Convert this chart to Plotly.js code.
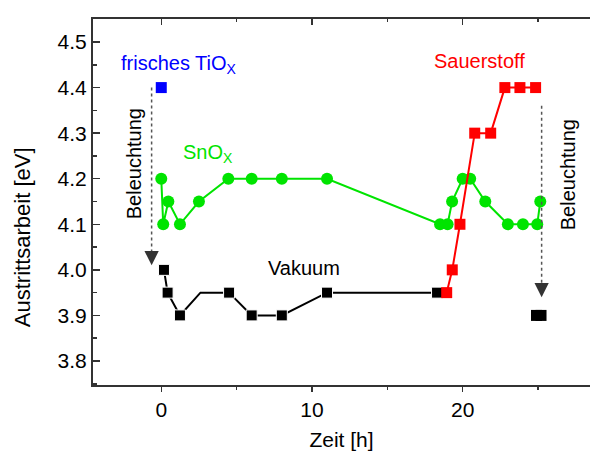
<!DOCTYPE html>
<html>
<head>
<meta charset="utf-8">
<script src="https://cdn.plot.ly/plotly-3.0.1.min.js"></script>
<style>
  html, body { margin: 0; padding: 0; background: #fff; }
  #chart { width: 590px; height: 458px; }
</style>
</head>
<body>
<div id="chart"></div>
<script>
// Work function (Austrittsarbeit) over time for the different sample states
const tiox_t   = [0];
const tiox_phi = [4.4];

const snox_t   = [0, 0.13, 0.47, 1.24, 2.5, 4.45, 6.0, 8.0, 11.0, 18.5, 19.0, 19.3, 20.0, 20.5, 21.5, 23.0, 24.0, 24.95, 25.15];
const snox_phi = [4.2, 4.1, 4.15, 4.1, 4.15, 4.2, 4.2, 4.2, 4.2, 4.1, 4.1, 4.15, 4.2, 4.2, 4.15, 4.1, 4.1, 4.1, 4.15];

// vacuum series; the point at 2.6 h is a line vertex only
const vakuum_t   = [0.18, 0.42, 1.24, 2.6, 4.5, 6.0, 8.0, 11.0, 18.3];
const vakuum_phi = [4.0, 3.95, 3.9, 3.95, 3.95, 3.9, 3.9, 3.95, 3.95];
const vakuum_vertexOnly = 3;

// vacuum after illumination
const vakuumBel_t   = [24.9, 25.2];
const vakuumBel_phi = [3.9, 3.9];

const sauer_t   = [18.94, 19.31, 19.82, 20.8, 21.86, 22.8, 23.8, 24.84];
const sauer_phi = [3.95, 4.0, 4.1, 4.3, 4.3, 4.4, 4.4, 4.4];

// illumination arrows: [time, start value, tip value]
const arrowLeft  = [-0.64, 4.4, 4.01];
const arrowRight = [25.24, 4.36, 3.94];

const xRange = [-4.53, 28.45];
const yRange = [3.7473, 4.5505];

const GREEN = '#00e400';
const FONT = 'Liberation Sans, Arial, sans-serif';
const AXIS_COLOR = '#333';

const traces = [
  {
    x: snox_t, y: snox_phi, mode: 'lines+markers',
    line: { color: GREEN, width: 2 },
    marker: { symbol: 'circle', size: 12, color: GREEN, opacity: 1 }
  },
  {
    x: vakuum_t, y: vakuum_phi, mode: 'lines+markers',
    line: { color: '#000', width: 2 },
    marker: {
      symbol: 'square', color: '#000', opacity: 1,
      size: vakuum_t.map((_, i) => i === vakuum_vertexOnly ? 0 : 11)
    }
  },
  {
    x: vakuumBel_t, y: vakuumBel_phi, mode: 'lines+markers',
    line: { color: '#000', width: 2 },
    marker: { symbol: 'square', size: 11, color: '#000', opacity: 1 }
  },
  {
    x: sauer_t, y: sauer_phi, mode: 'lines+markers',
    line: { color: '#ff0000', width: 2 },
    marker: { symbol: 'square', size: 11, color: '#ff0000', opacity: 1 }
  },
  {
    x: tiox_t, y: tiox_phi, mode: 'markers',
    marker: { symbol: 'square', size: 11, color: '#0000ff', opacity: 1 }
  },
  // carrier for the top tick axis
  { x: [], y: [], xaxis: 'x2', mode: 'markers' }
];

const shapes = [arrowLeft, arrowRight].map(a => ({
  type: 'line', xref: 'x', yref: 'y',
  x0: a[0], x1: a[0], y0: a[1], y1: a[2] + 0.02,
  line: { color: '#555', width: 1.5, dash: 'dot' }
}));

const arrowHeads = [arrowLeft, arrowRight].map(a => ({
  x: a[0], y: a[2], xref: 'x', yref: 'y',
  ax: 0, ay: -12, axref: 'pixel', ayref: 'pixel',
  text: '', showarrow: true, arrowhead: 2, arrowsize: 2.2, arrowwidth: 1.3,
  arrowcolor: '#333', standoff: 0
}));

function label(text, x, y, color, angle) {
  return {
    text: text, x: x, y: y, xref: 'x', yref: 'y', showarrow: false,
    xanchor: 'center', yanchor: 'middle', textangle: angle || 0,
    font: { family: FONT, size: 20, color: color }
  };
}

const annotations = [
  label('frisches TiO<sub>X</sub>', 1.15, 4.45, '#0000ff'),
  label('SnO<sub>X</sub>', 3.1, 4.255, GREEN),
  label('Vakuum', 9.5, 4.004, '#000'),
  label('Sauerstoff', 21.15, 4.458, '#ff0000'),
  label('Beleuchtung', -1.8, 4.232, '#000', -90),
  label('Beleuchtung', 27.0, 4.208, '#000', -90),
  // y-axis title, placed a little below the plot centre
  {
    text: 'Austrittsarbeit [eV]', xref: 'paper', yref: 'paper',
    x: -0.142, y: 0.405, xanchor: 'center', yanchor: 'middle',
    textangle: -90, showarrow: false,
    font: { family: FONT, size: 22, color: '#000' }
  }
].concat(arrowHeads);

const layout = {
  width: 590, height: 458,
  margin: { l: 93, r: 0, t: 19, b: 73 },
  paper_bgcolor: '#fff', plot_bgcolor: '#fff',
  showlegend: false,
  hovermode: false,
  font: { family: FONT, size: 20, color: '#000' },
  xaxis: {
    range: xRange, showgrid: false, zeroline: false,
    showline: true, linecolor: AXIS_COLOR, linewidth: 2, mirror: true,
    tickmode: 'linear', tick0: 0, dtick: 10,
    ticks: 'outside', ticklen: 5, tickwidth: 1.5, tickcolor: AXIS_COLOR,
    minor: { tickmode: 'linear', tick0: 0, dtick: 5, ticks: 'outside', ticklen: 3, tickwidth: 1.5, tickcolor: AXIS_COLOR },
    tickfont: { family: FONT, size: 21, color: '#000' },
    title: { text: 'Zeit [h]', font: { family: FONT, size: 21, color: '#000' }, standoff: 12 }
  },
  xaxis2: {
    range: xRange, overlaying: 'x', side: 'top', anchor: 'y',
    showgrid: false, zeroline: false, showline: false, showticklabels: false,
    tickmode: 'linear', tick0: 0, dtick: 10,
    ticks: 'inside', ticklen: 6, tickwidth: 1.5, tickcolor: AXIS_COLOR,
    minor: { tickmode: 'linear', tick0: 0, dtick: 5, ticks: 'inside', ticklen: 3, tickwidth: 1.5, tickcolor: AXIS_COLOR }
  },
  yaxis: {
    range: yRange, showgrid: false, zeroline: false,
    showline: true, linecolor: AXIS_COLOR, linewidth: 2, mirror: false,
    tickmode: 'linear', tick0: 3.8, dtick: 0.1, tickformat: '.1f',
    ticks: 'inside', ticklen: 7, tickwidth: 1.5, tickcolor: AXIS_COLOR,
    minor: { tickmode: 'linear', tick0: 3.8, dtick: 0.05, ticks: 'inside', ticklen: 4, tickwidth: 1.5, tickcolor: AXIS_COLOR },
    tickfont: { family: FONT, size: 21, color: '#000' }
  },
  shapes: shapes,
  annotations: annotations
};

Plotly.newPlot('chart', traces, layout, { displayModeBar: false, staticPlot: true });
</script>
</body>
</html>
